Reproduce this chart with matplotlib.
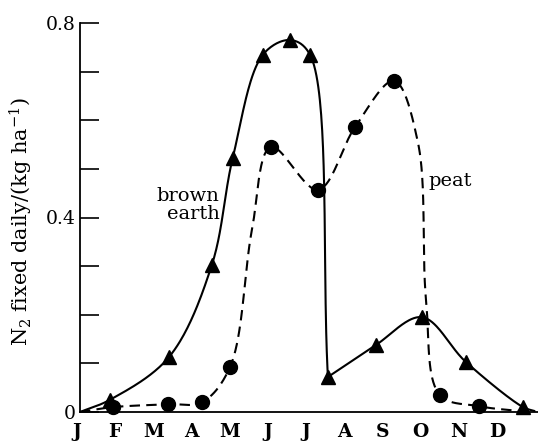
import numpy as np
import matplotlib.pyplot as plt

plt.rcParams["font.family"] = "DejaVu Serif"
plt.rcParams["mathtext.fontset"] = "dejavuserif"

# month index (0 = start of Jan) and daily N2 fixed (kg/ha)
MONTHS = ["J", "F", "M", "A", "M", "J", "J", "A", "S", "O", "N", "D"]

EARTH_X = [0.86, 2.41, 3.53, 4.08, 4.87, 5.58, 6.10, 6.57, 7.83, 9.03, 10.18, 11.68]
EARTH_Y = [0.025, 0.113, 0.302, 0.523, 0.735, 0.765, 0.735, 0.072, 0.138, 0.195, 0.103, 0.010]

PEAT_X = [0.94, 2.38, 3.27, 4.01, 5.08, 6.31, 7.28, 8.30, 9.50, 10.52]
PEAT_Y = [0.010, 0.016, 0.020, 0.093, 0.545, 0.457, 0.586, 0.681, 0.035, 0.012]

# where the drawn curves start/end and a few bend points
CURVE_START = (0.08, 0.0)
EARTH_END = (11.98, 0.002)
EARTH_BEND_JUL = (6.95, 0.092)
PEAT_END = (11.86, 0.0)
PEAT_BEND_MAY = (4.58, 0.374)
PEAT_BEND_SEP = [(8.93, 0.553), (9.14, 0.230)]

SX, SY = 38.2, 486.0  # px per month / px per unit, so the spline works in screen space


def catmull_rom(pts, n=40):
    P = np.array(pts, dtype=float) * [SX, SY]
    P = np.vstack([2 * P[0] - P[1], P, 2 * P[-1] - P[-2]])
    out = []
    for i in range(1, len(P) - 2):
        p0, p1, p2, p3 = P[i - 1:i + 3]
        t0 = 0.0
        t1 = t0 + max(np.linalg.norm(p1 - p0), 1e-6) ** 0.5
        t2 = t1 + max(np.linalg.norm(p2 - p1), 1e-6) ** 0.5
        t3 = t2 + max(np.linalg.norm(p3 - p2), 1e-6) ** 0.5
        t = np.linspace(t1, t2, n)[:, None]
        a1 = (t1 - t) / (t1 - t0) * p0 + (t - t0) / (t1 - t0) * p1
        a2 = (t2 - t) / (t2 - t1) * p1 + (t - t1) / (t2 - t1) * p2
        a3 = (t3 - t) / (t3 - t2) * p2 + (t - t2) / (t3 - t2) * p3
        b1 = (t2 - t) / (t2 - t0) * a1 + (t - t0) / (t2 - t0) * a2
        b2 = (t3 - t) / (t3 - t1) * a2 + (t - t1) / (t3 - t1) * a3
        c = (t2 - t) / (t2 - t1) * b1 + (t - t1) / (t2 - t1) * b2
        out.append(c)
    out = np.vstack(out) / [SX, SY]
    return out[:, 0], out[:, 1]


def main():
    fig = plt.figure(figsize=(5.38, 4.42), dpi=100)
    ax = fig.add_axes([80 / 538, 30 / 442, 458 / 538, 389 / 442])

    earth = list(zip(EARTH_X, EARTH_Y))
    peat = list(zip(PEAT_X, PEAT_Y))

    # brown earth: sharp corner at the July drop
    for seg in ([CURVE_START] + earth[:8],
                earth[7:8] + [EARTH_BEND_JUL] + earth[8:] + [EARTH_END]):
        x, y = catmull_rom(seg)
        ax.plot(x, y, color="black", lw=1.5, solid_capstyle="round")
    ax.plot(EARTH_X, EARTH_Y, "^", color="black", ms=10, clip_on=False)

    peat_knots = ([CURVE_START] + peat[:4] + [PEAT_BEND_MAY] + peat[4:8]
                  + PEAT_BEND_SEP + peat[8:] + [PEAT_END])
    x, y = catmull_rom(peat_knots)
    ax.plot(x, y, color="black", lw=1.5, linestyle=(0, (5, 3)))
    ax.plot(PEAT_X, PEAT_Y, "o", color="black", ms=10, clip_on=False)

    ax.text(3.74, 0.426, "brown\nearth", ha="right", va="center",
            multialignment="right", fontsize=14, linespacing=1.0)
    ax.text(9.19, 0.475, "peat", ha="left", va="center", fontsize=14)

    ax.set_xlim(0.08, 12.07)
    ax.set_ylim(0, 0.8)
    ax.set_xticks([])
    for i, m in enumerate(MONTHS):
        ax.text(i, -0.064, m, transform=ax.get_xaxis_transform(),
                ha="center", va="baseline", fontsize=13.5, fontweight="bold",
                clip_on=False)

    ax.set_yticks(np.arange(0, 0.81, 0.1))
    ax.set_yticklabels(["0", "", "", "", "0.4", "", "", "", "0.8"], fontsize=13.5)
    ax.tick_params(axis="y", direction="in", length=14, width=1.2, pad=3)

    ax.set_ylabel(r"N$_2$ fixed daily/(kg ha$^{-1}$)", fontsize=15)
    ax.yaxis.set_label_coords(-0.098, 0.49)

    for s in ("top", "right"):
        ax.spines[s].set_visible(False)
    for s in ("left", "bottom"):
        ax.spines[s].set_linewidth(1.3)

    fig.savefig("out.png", dpi=100)
    plt.close(fig)


if __name__ == "__main__":
    main()
